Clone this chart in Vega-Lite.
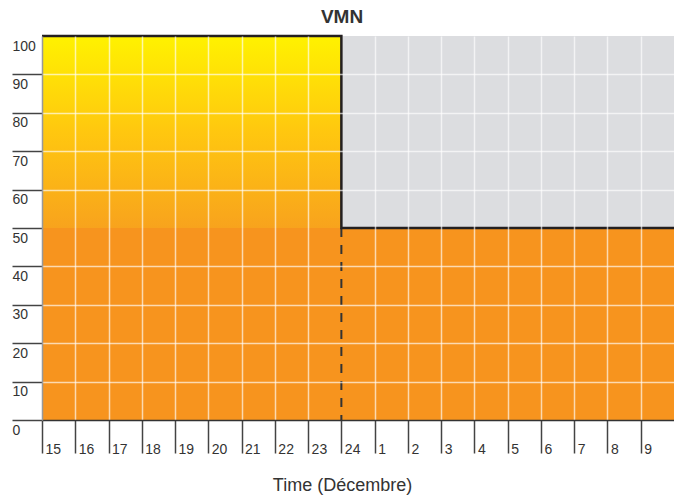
{
  "$schema": "https://vega.github.io/schema/vega-lite/v6.json",
  "width": 632,
  "height": 384,
  "autosize": {"type": "none"},
  "padding": {"left": 42, "top": 36, "right": 0, "bottom": 75},
  "background": "white",
  "title": {
    "text": "VMN",
    "font": "Liberation Sans",
    "fontSize": 19,
    "fontWeight": "bold",
    "color": "#333333",
    "anchor": "middle",
    "dx": -16,
    "baseline": "alphabetic",
    "offset": -11
  },
  "config": {
    "view": {"fill": "#dcdde0", "stroke": null}
  },
  "datasets": {
    "base": [
      {"t": 0, "lo": 0, "hi": 50},
      {"t": 19, "lo": 0, "hi": 50}
    ],
    "ramp": [
      {"t": 0, "lo": 50, "hi": 100},
      {"t": 9, "lo": 50, "hi": 100}
    ],
    "limit": [
      {"step": 1, "t": 0, "hi": 100},
      {"step": 2, "t": 9, "hi": 100},
      {"step": 3, "t": 9, "hi": 50},
      {"step": 4, "t": 19, "hi": 50}
    ],
    "split": [
      {"t": 9, "lo": 0, "hi": 50}
    ]
  },
  "encoding": {
    "x": {
      "field": "t",
      "type": "quantitative",
      "scale": {"domain": [0, 19], "nice": false, "zero": false},
      "axis": {
        "values": [0, 1, 2, 3, 4, 5, 6, 7, 8, 9, 10, 11, 12, 13, 14, 15, 16, 17, 18],
        "labelExpr": "datum.value <= 9 ? '' + (datum.value + 15) : '' + (datum.value - 9)",
        "labelFont": "Liberation Sans",
        "labelFontSize": 14,
        "labelColor": "#333333",
        "labelAlign": "left",
        "labelBaseline": "alphabetic",
        "labelPadding": 0,
        "labelOffset": 3,
        "labelFlush": false,
        "labelOverlap": false,
        "tickSize": 33,
        "tickColor": "#444444",
        "tickWidth": 1.5,
        "domainColor": "#333333",
        "domainWidth": 1.5,
        "grid": true,
        "gridColor": "#ffffff",
        "gridOpacity": {"condition": {"test": "datum.value == 9 || datum.value == 0", "value": 0}, "value": 0.65},
        "gridWidth": 1.5,
        "zindex": 1,
        "title": "Time (Décembre)",
        "titleFont": "Liberation Sans",
        "titleFontSize": 18,
        "titleFontWeight": "normal",
        "titleColor": "#333333",
        "titleAlign": "center",
        "titleBaseline": "alphabetic",
        "titleX": 300,
        "titleY": 70
      }
    },
    "y": {
      "field": "hi",
      "type": "quantitative",
      "scale": {"domain": [0, 100], "nice": false},
      "axis": {
        "values": [0, 10, 20, 30, 40, 50, 60, 70, 80, 90, 100],
        "labelFont": "Liberation Sans",
        "labelFontSize": 14,
        "labelColor": "#333333",
        "labelAlign": "left",
        "labelBaseline": "top",
        "labelPadding": 0,
        "labelOffset": 3,
        "labelFlush": false,
        "labelOverlap": false,
        "tickSize": 30,
        "tickColor": "#444444",
        "tickWidth": 1.5,
        "tickOpacity": {"condition": {"test": "datum.value == 100", "value": 0}, "value": 1},
        "domainColor": "#999999",
        "domainWidth": 1.5,
        "grid": true,
        "gridColor": "#ffffff",
        "gridOpacity": {"condition": {"test": "datum.value == 100 || datum.value == 50 || datum.value == 0", "value": 0}, "value": 0.65},
        "gridWidth": 1.5,
        "zindex": 1,
        "title": null
      }
    }
  },
  "layer": [
    {
      "data": {"name": "base"},
      "mark": {"type": "area", "color": "#f7941e"},
      "encoding": {
        "y2": {"field": "lo"}
      }
    },
    {
      "data": {"name": "ramp"},
      "mark": {
        "type": "area",
        "color": {
          "gradient": "linear",
          "x1": 0, "y1": 1, "x2": 0, "y2": 0,
          "stops": [
            {"offset": 0, "color": "#f8a31d"},
            {"offset": 0.5, "color": "#ffc70f"},
            {"offset": 1, "color": "#fff200"}
          ]
        }
      },
      "encoding": {
        "y2": {"field": "lo"}
      }
    },
    {
      "data": {"name": "split"},
      "mark": {"type": "rule", "color": "#333333", "strokeWidth": 2, "strokeDash": [9, 8]},
      "encoding": {
        "y2": {"field": "lo"}
      }
    },
    {
      "data": {"name": "limit"},
      "mark": {"type": "line", "color": "#231f20", "strokeWidth": 2.5, "interpolate": "linear"},
      "encoding": {
        "order": {"field": "step", "type": "quantitative"}
      }
    }
  ]
}
